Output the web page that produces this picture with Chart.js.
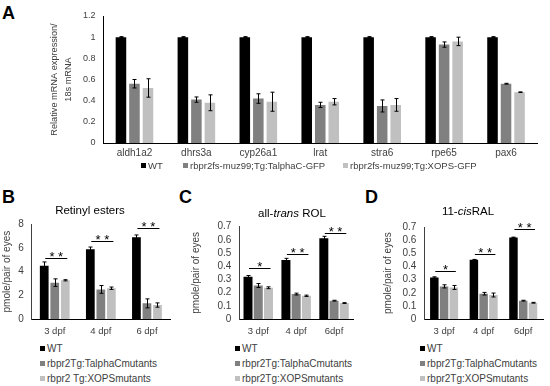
<!DOCTYPE html>
<html>
<head>
<meta charset="utf-8">
<script src="https://cdn.jsdelivr.net/npm/chart.js@4"></script>
<style>
    body { margin: 0; background: #fff; }
    #page { position: relative; width: 550px; height: 386px; overflow: hidden; font-family: "Liberation Sans", Arial, sans-serif; color: #404040; }
    canvas { position: absolute; }
    .letter { position: absolute; font-size: 18px; font-weight: bold; line-height: 1; color: #000; }
    .title { position: absolute; font-size: 11.5px; line-height: 1; color: #000; text-align: center; white-space: nowrap; }
    .leg { position: absolute; font-size: 10px; line-height: 12px; white-space: nowrap; }
    .leg i { display: inline-block; width: 5px; height: 5px; margin-right: 2px; vertical-align: 1px; }
</style>
</head>
<body>
<div id="page">
    <div class="letter" style="left:2px;top:4px;">A</div>
    <div class="letter" style="left:2px;top:188px;">B</div>
    <div class="letter" style="left:179px;top:188px;">C</div>
    <div class="letter" style="left:365px;top:188px;">D</div>

    <canvas id="chart-a" width="550" height="163" style="left:0;top:0;"></canvas>
    <canvas id="chart-b" width="180" height="145" style="left:0;top:195px;"></canvas>
    <canvas id="chart-c" width="180" height="145" style="left:180px;top:195px;"></canvas>
    <canvas id="chart-d" width="185" height="145" style="left:365px;top:195px;"></canvas>

    <div class="title" style="left:40px;top:205px;width:100px;">Retinyl esters</div>
    <div class="title" style="left:242px;top:208px;width:100px;">all-<i>trans</i> ROL</div>
    <div class="title" style="left:418px;top:206px;width:100px;">11-<i>cis</i>RAL</div>

    <div class="leg" style="left:141px;top:160px;font-size:9.5px;"><i style="background:#000"></i>WT</div>
    <div class="leg" style="left:183px;top:160px;font-size:9.5px;"><i style="background:#808080"></i>rbpr2fs-muz99;Tg:TalphaC-GFP</div>
    <div class="leg" style="left:343px;top:160px;font-size:9.5px;"><i style="background:#c0c0c0"></i>rbpr2fs-muz99;Tg:XOPS-GFP</div>

    <div class="leg" style="left:40px;top:343px;"><i style="background:#000"></i>WT</div>
    <div class="leg" style="left:40px;top:358px;"><i style="background:#808080"></i>rbpr2Tg:TalphaCmutants</div>
    <div class="leg" style="left:40px;top:373px;"><i style="background:#c0c0c0"></i>rbpr2 Tg:XOPSmutants</div>

    <div class="leg" style="left:235px;top:343px;"><i style="background:#000"></i>WT</div>
    <div class="leg" style="left:235px;top:358px;"><i style="background:#808080"></i>rbpr2Tg:TalphaCmutants</div>
    <div class="leg" style="left:235px;top:373px;"><i style="background:#c0c0c0"></i>rbpr2Tg:XOPSmutants</div>

    <div class="leg" style="left:420px;top:343px;"><i style="background:#000"></i>WT</div>
    <div class="leg" style="left:420px;top:358px;"><i style="background:#808080"></i>rbpr2Tg:TalphaCmutants</div>
    <div class="leg" style="left:420px;top:373px;"><i style="background:#c0c0c0"></i>rbpr2Tg:XOPSmutants</div>
</div>

<script>
// panel A - qPCR
var genes = ["aldh1a2", "dhrs3a", "cyp26a1", "lrat", "stra6", "rpe65", "pax6"];
var aWT = [1, 1, 1, 1, 1, 1, 1];
var aWTErr = [0.005, 0.005, 0.005, 0.005, 0.005, 0.005, 0.005];
var aTalpha = [0.56, 0.41, 0.42, 0.36, 0.35, 0.93, 0.56];
var aTalphaErr = [0.04, 0.025, 0.045, 0.025, 0.057, 0.025, 0.004];
var aXops = [0.52, 0.38, 0.39, 0.39, 0.36, 0.96, 0.48];
var aXopsErr = [0.087, 0.075, 0.09, 0.03, 0.06, 0.04, 0.003];

// panel B - retinyl esters
var daysB = ["3 dpf", "4 dpf", "6 dpf"];
var bWT = [4.5, 5.9, 6.9];
var bWTErr = [0.32, 0.18, 0.2];
var bTalpha = [3.07, 2.5, 1.32];
var bTalphaErr = [0.32, 0.33, 0.38];
var bXops = [3.27, 2.6, 1.18];
var bXopsErr = [0.05, 0.1, 0.18];
var bSigLevel = [5.13, 6.6, 7.66];
var bSigText = ["* *", "* *", "* *"];

// panel C - all-trans ROL
var daysCD = ["3 dpf", "4 dpf", "6dpf"];
var cWT = [0.32, 0.448, 0.612];
var cWTErr = [0.01, 0.012, 0.015];
var cTalpha = [0.254, 0.189, 0.139];
var cTalphaErr = [0.015, 0.007, 0.003];
var cXops = [0.237, 0.176, 0.121];
var cXopsErr = [0.007, 0.005, 0.003];
var cSigLevel = [0.385, 0.494, 0.65];
var cSigText = ["*", "* *", "* *"];

// panel D - 11-cis RAL
var dWT = [0.317, 0.452, 0.622];
var dWTErr = [0.005, 0.003, 0.003];
var dTalpha = [0.249, 0.193, 0.14];
var dTalphaErr = [0.012, 0.01, 0.003];
var dXops = [0.241, 0.183, 0.124];
var dXopsErr = [0.015, 0.015, 0.003];
var dSigLevel = [0.363, 0.495, 0.685];
var dSigText = ["*", "* *", "* *"];

var FONT = "'Liberation Sans', Arial, sans-serif";
Chart.defaults.font.family = FONT;
Chart.defaults.color = "#404040";
Chart.defaults.animation = false;

var errorBars = {
    id: "errorBars",
    afterDatasetsDraw: function(chart) {
        var ctx = chart.ctx;
        var yScale = chart.scales.y;
        ctx.save();
        ctx.strokeStyle = "#000";
        ctx.lineWidth = 1;
        chart.data.datasets.forEach(function(ds, i) {
            var meta = chart.getDatasetMeta(i);
            meta.data.forEach(function(bar, j) {
                var v = ds.data[j];
                var e = ds.errors[j];
                var top = yScale.getPixelForValue(v + e);
                var bot = yScale.getPixelForValue(v - e);
                var x = Math.round(bar.x) + 0.5;
                ctx.beginPath();
                ctx.moveTo(x, top); ctx.lineTo(x, bot);
                ctx.moveTo(x - 2, top); ctx.lineTo(x + 2, top);
                ctx.moveTo(x - 2, bot); ctx.lineTo(x + 2, bot);
                ctx.stroke();
            });
        });
        ctx.restore();
    }
};

var sigMarks = {
    id: "sigMarks",
    afterDatasetsDraw: function(chart, args, opts) {
        if (!opts.levels) return;
        var ctx = chart.ctx;
        var yScale = chart.scales.y;
        var first = chart.getDatasetMeta(0).data;
        var last = chart.getDatasetMeta(2).data;
        ctx.save();
        ctx.strokeStyle = "#000";
        ctx.fillStyle = "#000";
        ctx.lineWidth = 1;
        ctx.font = "13px " + FONT;
        ctx.textAlign = "center";
        ctx.textBaseline = "alphabetic";
        for (var i = 0; i < opts.levels.length; i++) {
            var y = Math.round(yScale.getPixelForValue(opts.levels[i])) + 0.5;
            var x1 = first[i].x + 1;
            var x2 = last[i].x + 2;
            ctx.beginPath();
            ctx.moveTo(x1, y); ctx.lineTo(x2, y);
            ctx.stroke();
            ctx.fillText(opts.texts[i], (x1 + x2) / 2, y + 2);
        }
        ctx.restore();
    }
};

function makeDatasets(wt, wtErr, ta, taErr, xo, xoErr, catPct, barPct) {
    var list = [
        {label: "WT", data: wt, errors: wtErr, backgroundColor: "#000000"},
        {label: "TalphaC", data: ta, errors: taErr, backgroundColor: "#808080"},
        {label: "XOPS", data: xo, errors: xoErr, backgroundColor: "#c0c0c0"}
    ];
    list.forEach(function(d) {
        d.categoryPercentage = catPct;
        d.barPercentage = barPct;
        d.borderWidth = 0;
    });
    return list;
}

function barChart(id, labels, datasets, o) {
    return new Chart(document.getElementById(id).getContext("2d"), {
        type: "bar",
        data: {labels: labels, datasets: datasets},
        plugins: [errorBars, sigMarks],
        options: {
            responsive: false,
            animation: false,
            layout: {padding: {left: 0, top: o.padTop, right: o.padRight, bottom: 0}},
            plugins: {
                legend: {display: false},
                tooltip: {enabled: false},
                sigMarks: {levels: o.sigLevels, texts: o.sigTexts}
            },
            scales: {
                x: {
                    grid: {display: false, drawTicks: false},
                    border: {display: true, color: "#000"},
                    ticks: {font: {size: o.xTickSize}, padding: o.xPad, color: "#404040"},
                    afterFit: function(scale) { scale.height = o.xHeight; }
                },
                y: {
                    min: 0,
                    max: o.max,
                    grid: {display: false, drawTicks: false},
                    border: {display: true, color: o.yColor},
                    ticks: {
                        font: {size: o.yTickSize}, padding: 8, stepSize: o.step, color: "#404040",
                        autoSkip: false,
                        callback: function(v) { return String(+v.toFixed(2)); }
                    },
                    title: {
                        display: true,
                        text: o.yTitle,
                        font: {size: o.yTitleSize, lineHeight: o.yTitleLH},
                        color: "#404040",
                        padding: {top: o.yTitlePad, bottom: 0}
                    },
                    afterFit: function(scale) { scale.width = o.yWidth; }
                }
            }
        }
    });
}

barChart("chart-a", genes, makeDatasets(aWT, aWTErr, aTalpha, aTalphaErr, aXops, aXopsErr, 0.655, 0.78), {
    padTop: 16, padRight: 13, xHeight: 20, xPad: 4, max: 1.2, step: 0.2, yColor: "#000",
    xTickSize: 10, yTickSize: 9,
    yTitle: ["Relative mRNA expression/", "18s mRNA"], yTitleSize: 9.2, yTitleLH: 1.5, yTitlePad: 48,
    yWidth: 103.5
});

barChart("chart-b", daysB, makeDatasets(bWT, bWTErr, bTalpha, bTalphaErr, bXops, bXopsErr, 0.685, 0.83), {
    padTop: 29.3, padRight: 10, xHeight: 21, xPad: 7, max: 8, step: 2, yColor: "#404040",
    xTickSize: 9.5, yTickSize: 10,
    yTitle: "pmole/pair of eyes", yTitleSize: 10, yTitleLH: 1.2, yTitlePad: 1,
    yWidth: 31.7, sigLevels: bSigLevel, sigTexts: bSigText
});

barChart("chart-c", daysCD, makeDatasets(cWT, cWTErr, cTalpha, cTalphaErr, cXops, cXopsErr, 0.81, 0.88), {
    padTop: 31.7, padRight: 7, xHeight: 21, xPad: 7, max: 0.7, step: 0.1, yColor: "#404040",
    xTickSize: 9.5, yTickSize: 10,
    yTitle: "pmole/pair of eyes", yTitleSize: 10, yTitleLH: 1.2, yTitlePad: 10,
    yWidth: 59.3, sigLevels: cSigLevel, sigTexts: cSigText
});

barChart("chart-d", daysCD, makeDatasets(dWT, dWTErr, dTalpha, dTalphaErr, dXops, dXopsErr, 0.74, 0.87), {
    padTop: 32.3, padRight: 7, xHeight: 21, xPad: 7, max: 0.7, step: 0.1, yColor: "#404040",
    xTickSize: 9.5, yTickSize: 10,
    yTitle: "pmole/pair of eyes", yTitleSize: 10, yTitleLH: 1.2, yTitlePad: 17.5,
    yWidth: 59.3, sigLevels: dSigLevel, sigTexts: dSigText
});
</script>
</body>
</html>
